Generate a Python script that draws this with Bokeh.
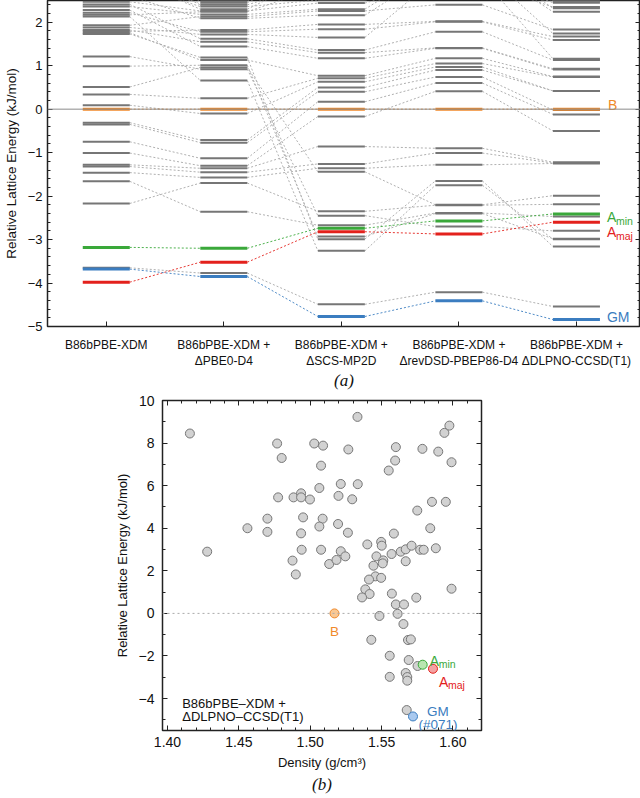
from bokeh.plotting import figure
from bokeh.layouts import column, row
from bokeh.models import Range1d, FixedTicker, LinearAxis, Span, Label, CustomJSTickFormatter
from bokeh.core.properties import value
from bokeh.embed import file_html
from bokeh.resources import INLINE

FONT = "Liberation Sans"
SERIF = "Liberation Serif"

# ---------------- panel (a) data ----------------
method_labels = [
    "B86bPBE-XDM",
    "B86bPBE-XDM +\n\u0394PBE0-D4",
    "B86bPBE-XDM +\n\u0394SCS-MP2D",
    "B86bPBE-XDM +\n\u0394revDSD-PBEP86-D4",
    "B86bPBE-XDM +\n\u0394DLPNO-CCSD(T1)",
]
struct_ids = ["GM", "S1", "Amaj", "Amin", "B", "T1", "T2", "T3", "T4", "T5", "T6", "T7",
              "U4", "U3b", "U7", "U3", "U1", "U2", "U8", "V2", "V3", "V4", "V5", "V6", "V7",
              "V8", "V9", "V10", "V11", "V12", "V13", "V14", "V15", "V16", "V17", "V18", "W1", "W2"]
e_xdm = [-3.68, -3.65, -3.98, -3.18, 0.0, -2.17, -1.66, 1.21, 0.99, 1.73, 2.13, 0.51,
         -1.46, -1.32, -1.28, -1.01, -0.75, -0.35, -0.31, 0.09, 0.34, 1.76, 2.28, 1.82, 2.41,
         1.88, 2.22, 1.79, 2.60, 1.93, 2.36, 2.17, 2.47, 3.00, 2.90, 3.20, 2.80, 3.10]
e_pbe0 = [-3.85, -3.77, -3.52, -3.20, 0.0, -1.70, -2.36, 0.92, 1.01, 1.19, 0.66, 0.96,
          -1.57, -1.45, -1.36, -1.30, -1.13, -0.77, -0.71, -0.10, 0.25, 1.13, 1.44, 1.55, 1.62,
          1.72, 1.78, 1.82, 2.09, 2.13, 2.18, 2.24, 2.26, 2.30, 2.36, 2.40, 2.45, 2.49]
e_scs = [-4.77, -4.49, -2.82, -2.74, 0.0, -2.35, -2.67, -2.45, -2.93, -2.99, -3.26, -1.44,
         -1.36, -1.26, -0.86, -0.17, 0.17, 0.40, 0.50, 0.63, 0.71, 0.77, 1.17, 1.30, 1.36,
         1.65, 1.84, 1.95, 2.16, 2.26, 2.30, 2.80, 2.44, 3.10, 2.51, 2.90, 3.20, 3.00]
e_revdsd = [-4.41, -4.21, -2.87, -2.57, 0.0, -2.21, -2.39, -2.70, -2.40, -1.65, -1.75, -2.20,
            -1.28, -1.01, -0.90, 0.41, 0.60, 0.74, 0.90, 0.97, 1.05, 1.17, 1.40, 1.41, 1.78,
            3.00, 2.01, 2.02, 3.20, 2.40, 3.30, 3.50, 2.90, 3.00, 2.70, 3.60, 3.40, 3.80]
e_dlpno = [-4.84, -4.54, -2.60, -2.41, 0.0, -2.19, -2.47, -2.80, -2.98, -3.16, -2.99, -1.99,
           -1.25, -1.24, -1.22, -0.50, -0.12, -0.02, 0.42, 0.42, 0.74, 0.75, 0.91, 0.93, 1.13,
           1.16, 1.59, 1.67, 1.74, 1.83, 2.24, 2.32, 2.35, 2.45, 2.48, 2.49, 3.01, 3.06]
y_ticks_a = [-5, -4, -3, -2, -1, 0, 1, 2]

# ---------------- panel (b) data ----------------
density = [1.4157, 1.4278, 1.456, 1.470, 1.470, 1.4768, 1.480, 1.4775, 1.4883, 1.4936,
           1.4936, 1.4998, 1.495, 1.4936, 1.494, 1.4876, 1.5028, 1.509, 1.5076, 1.5064,
           1.5087, 1.5064, 1.5076, 1.5133, 1.5184, 1.5214, 1.5246, 1.5198, 1.5214, 1.5195,
           1.5264, 1.5294, 1.5333, 1.5267, 1.5331, 1.540, 1.5497, 1.5501, 1.5464, 1.5512,
           1.5443, 1.5508, 1.557, 1.5586, 1.5634, 1.5669, 1.5669, 1.571, 1.577, 1.5795,
           1.588, 1.5841, 1.575, 1.5853, 1.595, 1.555, 1.5595, 1.560, 1.5786, 1.5897,
           1.599, 1.594, 1.5975,
           1.4899, 1.5457, 1.5497, 1.5412, 1.5386, 1.5416, 1.5363, 1.5572, 1.560, 1.5657,
           1.5743, 1.599, 1.5485, 1.5612, 1.5653, 1.5428, 1.5685, 1.5705, 1.5557, 1.569,
           1.5752, 1.5557, 1.5669, 1.568, 1.568, 1.5676]
rel_energy = [8.45, 2.90, 4.00, 4.45, 3.83, 7.98, 7.30, 5.45, 5.45, 5.64,
              5.45, 5.35, 4.51, 3.76, 2.99, 2.48, 7.98, 7.88, 6.94, 5.89,
              4.45, 4.08, 2.99, 2.32, 2.51, 2.92, 2.68, 5.52, 6.08, 4.20,
              3.79, 5.36, 6.07, 7.70, 9.23, 3.24, 3.36, 3.18, 2.68, 2.49,
              2.24, 2.35, 2.79, 3.75, 2.90, 3.01, 2.45, 3.18, 2.99, 2.99,
              3.06, 4.00, 4.83, 5.24, 5.24, 6.71, 7.18, 7.81, 7.73, 7.60,
              7.10, 8.48, 8.82,
              1.83, 1.74, 1.67, 1.59, 1.13, 0.91, 0.75, 0.93, 0.42, 0.42,
              0.74, 1.16, -0.12, -0.02, -0.50, -1.24, -1.25, -1.22, -1.99, -2.19,
              -2.47, -2.98, -2.80, -2.99, -3.16, -4.54]
special_names = ["B", "Amin", "Amaj", "GM"]
special_density = [1.517, 1.5788, 1.586, 1.572]
special_energy = [0.0, -2.41, -2.60, -4.84]
x_ticks_b = [1.40, 1.45, 1.50, 1.55, 1.60]
y_ticks_b = [-4, -2, 0, 2, 4, 6, 8, 10]

# ---------------- styles ----------------
COL = {"B": "#f0892a", "Amin": "#3aa83a", "Amaj": "#e3211c", "GM": "#3b7dc0"}
FILL = {"B": "#f9c894", "Amin": "#b9e6b0", "Amaj": "#f3a3a3", "GM": "#a9c9ef"}
GRAY_BAR = "#767676"
GRAY_DASH = "#b0b0b0"
HALF = 0.2
AXC = "#222222"

energies = [e_xdm, e_pbe0, e_scs, e_revdsd, e_dlpno]
cols = [1, 2, 3, 4, 5]


def blank_axis(ticker, minor=True, label=None):
    ax = LinearAxis(ticker=ticker, formatter=CustomJSTickFormatter(code="return ''"))
    ax.axis_line_color = None
    ax.major_tick_in = 5 if minor is not None else 0
    ax.major_tick_out = 0
    ax.minor_tick_in = 3 if minor else 0
    ax.minor_tick_out = 0
    ax.major_tick_line_color = AXC
    ax.minor_tick_line_color = AXC
    ax.major_label_standoff = 0
    ax.major_label_text_font_size = "1px"
    if label:
        ax.axis_label = label
        ax.axis_label_text_font = SERIF
        ax.axis_label_text_font_style = "italic"
        ax.axis_label_text_font_size = "17px"
        ax.axis_label_text_color = "#111111"
        ax.axis_label_standoff = 2
    return ax


def style_axis(ax, size):
    ax.axis_line_color = None
    ax.major_tick_in = 5
    ax.major_tick_out = 0
    ax.minor_tick_in = 3
    ax.minor_tick_out = 0
    ax.major_tick_line_color = AXC
    ax.minor_tick_line_color = AXC
    ax.major_label_text_font = FONT
    ax.major_label_text_font_size = size
    ax.major_label_text_color = "#111111"
    ax.axis_label_text_font = FONT
    ax.axis_label_text_font_style = "normal"
    ax.axis_label_text_color = "#111111"


# ================= panel (a) =================
p1 = figure(width=640, height=393, x_range=Range1d(0.5, 5.545), y_range=Range1d(-5, 2.5),
            output_backend="svg", toolbar_location=None,
            min_border_left=43, min_border_right=0, min_border_top=0, min_border_bottom=66)
p1.grid.visible = False
p1.outline_line_color = AXC
p1.outline_line_width = 1.5
p1.background_fill_color = "white"

p1.add_layout(Span(location=0, dimension="width", line_color="#8a8a8a", line_width=1))

gx0, gy0, gx1, gy1 = [], [], [], []
hsegs = {k: ([], [], [], []) for k in COL}
for i, sid in enumerate(struct_ids):
    for j in range(4):
        a = energies[j][i]
        b = energies[j + 1][i]
        tgt = hsegs[sid] if sid in COL else (gx0, gy0, gx1, gy1)
        tgt[0].append(cols[j] + HALF)
        tgt[1].append(a)
        tgt[2].append(cols[j + 1] - HALF)
        tgt[3].append(b)
p1.segment(gx0, gy0, gx1, gy1, line_color=GRAY_DASH, line_width=1, line_dash="2 2")
for k, (a0, b0, a1, b1) in hsegs.items():
    p1.segment(a0, b0, a1, b1, line_color=COL[k], line_width=1, line_dash="2 2", line_alpha=0.9)

bx0, bx1, by = [], [], []
for i, sid in enumerate(struct_ids):
    if sid in COL:
        continue
    for j in range(5):
        bx0.append(cols[j] - HALF)
        bx1.append(cols[j] + HALF)
        by.append(energies[j][i])
p1.segment(bx0, by, bx1, by, line_color=GRAY_BAR, line_width=2)
for i, sid in enumerate(struct_ids):
    if sid not in COL:
        continue
    p1.segment([c - HALF for c in cols], [e[i] for e in energies],
               [c + HALF for c in cols], [e[i] for e in energies],
               line_color=COL[sid], line_width=3)

# right-hand labels of panel (a)
idx = {sid: i for i, sid in enumerate(struct_ids)}
xr = cols[-1] + HALF
def lab_a(sid, txt, dx, dy, size, color):
    p1.text([xr], [e_dlpno[idx[sid]]], text=[txt], x_offset=dx, y_offset=dy,
            text_font=value(FONT), text_font_size=size, text_color=color,
            text_align="left", text_baseline="alphabetic")
lab_a("B", "B", 8, -4, "14px", COL["B"])
lab_a("Amin", "A", 7, 3, "14px", COL["Amin"])
lab_a("Amin", "min", 16, 7, "10.5px", COL["Amin"])
lab_a("Amaj", "A", 7, 10, "14px", COL["Amaj"])
lab_a("Amaj", "maj", 16, 14, "10.5px", COL["Amaj"])
lab_a("GM", "GM", 7, -3, "14px", COL["GM"])

p1.xaxis.ticker = FixedTicker(ticks=cols, minor_ticks=[])
p1.xaxis.major_label_overrides = {c: lab for c, lab in zip(cols, method_labels)}
style_axis(p1.xaxis[0], "12px")
p1.xaxis.major_label_standoff = 11
p1.xaxis.axis_label = "(a)"
p1.xaxis.axis_label_text_font = SERIF
p1.xaxis.axis_label_text_font_style = "italic"
p1.xaxis.axis_label_text_font_size = "17px"
p1.xaxis.axis_label_standoff = 0
ya_minor = [round(-5 + 0.2 * k, 1) for k in range(38)]
p1.yaxis.ticker = FixedTicker(ticks=y_ticks_a, minor_ticks=ya_minor)
style_axis(p1.yaxis[0], "13px")
p1.yaxis.axis_label = "Relative Lattice Energy (kJ/mol)"
p1.yaxis.axis_label_text_font_size = "13.5px"
p1.yaxis.major_label_standoff = 5
p1.yaxis.axis_label_standoff = 6
p1.add_layout(blank_axis(FixedTicker(ticks=y_ticks_a, minor_ticks=ya_minor)), "right")

# ================= panel (b) =================
p2 = figure(width=640, height=404, x_range=Range1d(1.3965, 1.62), y_range=Range1d(-5.5, 10),
            output_backend="svg", toolbar_location=None,
            min_border_left=162, min_border_right=159, min_border_top=7, min_border_bottom=67)
p2.grid.visible = False
p2.outline_line_color = AXC
p2.outline_line_width = 1.5

p2.add_layout(Span(location=0, dimension="width", line_color="#aaaaaa", line_width=1,
                   line_dash="2 3"))
p2.scatter(density, rel_energy, size=9, fill_color="#d2d2d2", line_color="#777777",
           line_width=1)
for k, name in enumerate(special_names):
    p2.scatter([special_density[k]], [special_energy[k]], size=9, fill_color=FILL[name],
               line_color=COL[name], line_width=1)

sidx = {n: k for k, n in enumerate(special_names)}
def lab_b(name, txt, dx, dy, size, align="left"):
    k = sidx[name]
    p2.text([special_density[k]], [special_energy[k]], text=[txt], x_offset=dx, y_offset=dy,
            text_font=value(FONT), text_font_size=size, text_color=COL[name],
            text_align=align, text_baseline="alphabetic")
lab_b("B", "B", 0, 18, "13.5px", "center")
lab_b("Amin", "A", 7, -4, "14px")
lab_b("Amin", "min", 16, -1, "10.5px")
lab_b("Amaj", "A", 6, 13, "14px")
lab_b("Amaj", "maj", 15, 16, "10.5px")
lab_b("GM", "GM", 25, -5, "13.5px", "center")
lab_b("GM", "(#071)", 25, 8, "13.5px", "center")

p2.add_layout(Label(x=1.4103, y=-4.25, text="B86bPBE\u2013XDM +", text_font=FONT,
                    text_font_size="13px", text_color="#111111", text_baseline="alphabetic"))
p2.add_layout(Label(x=1.4103, y=-4.86, text="\u0394DLPNO\u2013CCSD(T1)", text_font=FONT,
                    text_font_size="13px", text_color="#111111", text_baseline="alphabetic"))

xb_minor = [round(1.40 + 0.01 * k, 2) for k in range(23)]
yb_minor = list(range(-5, 11))
p2.xaxis.ticker = FixedTicker(ticks=x_ticks_b, minor_ticks=xb_minor)
p2.xaxis.formatter = CustomJSTickFormatter(code="return tick.toFixed(2)")
style_axis(p2.xaxis[0], "14px")
p2.xaxis.axis_label = "Density (g/cm\u00b3)"
p2.xaxis.axis_label_text_font_size = "13px"
p2.xaxis.major_label_standoff = 6
p2.xaxis.axis_label_standoff = 5
p2.yaxis.ticker = FixedTicker(ticks=y_ticks_b, minor_ticks=yb_minor)
style_axis(p2.yaxis[0], "14px")
p2.yaxis.axis_label = "Relative Lattice Energy (kJ/mol)"
p2.yaxis.axis_label_text_font_size = "13px"
p2.yaxis.major_label_standoff = 8
p2.yaxis.axis_label_standoff = 6
p2.add_layout(blank_axis(FixedTicker(ticks=y_ticks_b, minor_ticks=yb_minor)), "right")
p2.add_layout(blank_axis(FixedTicker(ticks=x_ticks_b, minor_ticks=xb_minor)), "above")
p2.add_layout(blank_axis(FixedTicker(ticks=[], minor_ticks=[]), minor=None, label="(b)"), "below")

layout = column(row(p1), row(p2), spacing=0)
open("out.html", "w").write(file_html(layout, INLINE))
